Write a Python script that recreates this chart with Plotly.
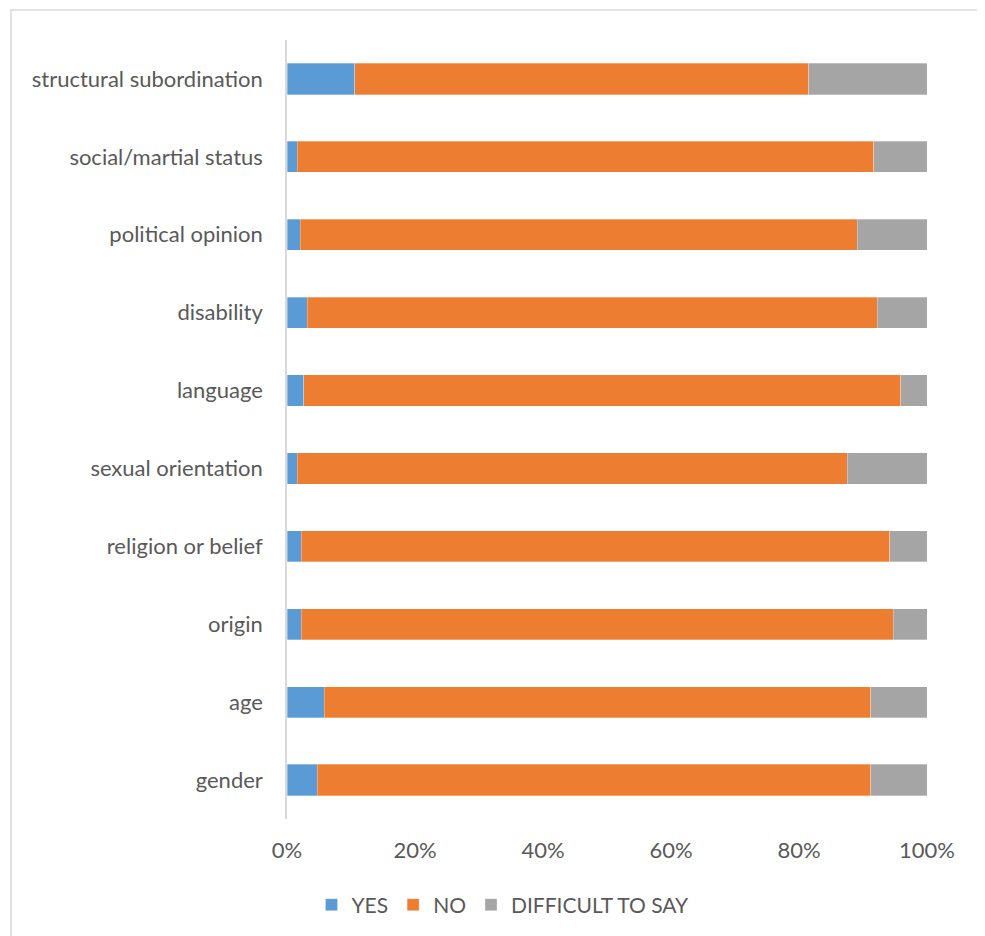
import plotly.graph_objects as go

categories = ["gender", "age", "origin", "religion or belief", "sexual orientation",
              "language", "disability", "political opinion", "social/martial status",
              "structural subordination"]
yes_vals = [4.7, 5.8, 2.2, 2.2, 1.6, 2.6, 3.2, 2.1, 1.6, 10.6]
no_vals = [86.5, 85.4, 92.5, 92.0, 85.9, 93.3, 89.0, 87.0, 90.1, 70.9]
dts_vals = [8.8, 8.8, 5.3, 5.8, 12.5, 4.1, 7.8, 10.9, 8.3, 18.5]
series_names = ["YES", "NO", "DIFFICULT TO SAY"]
tick_vals = [0, 20, 40, 60, 80, 100]
tick_text = ["0%", "20%", "40%", "60%", "80%", "100%"]

colors = ["#5B9BD5", "#ED7D31", "#A5A5A5"]
FONT = "Lato, 'Open Sans', sans-serif"

fig = go.Figure()
for name, vals, col in zip(series_names, [yes_vals, no_vals, dts_vals], colors):
    fig.add_trace(go.Bar(
        y=categories, x=vals, name=name, orientation="h",
        marker=dict(color=col, line=dict(color="rgba(255,255,255,0.6)", width=0.5)),
    ))

OFF = 8  # page body offset
W, H = 985 - OFF, 936 - OFF
L, T = 287 - OFF, 40 - OFF
pw, ph = 640, 780
R, B = W - L - pw, H - T - ph


def px_x(x):
    return (x - OFF - L) / pw


def px_y(y):
    return (T + ph - (y - OFF)) / ph


fig.update_layout(
    width=W, height=H,
    barmode="stack", bargap=0.6,
    margin=dict(l=L, r=R, t=T, b=B, pad=0),
    paper_bgcolor="white", plot_bgcolor="white",
    font=dict(family=FONT, size=22, color="#595959"),
    showlegend=True,
    legend=dict(orientation="h", x=px_x(503), xanchor="center",
                y=px_y(905), yanchor="middle",
                font=dict(size=21, color="#595959"), traceorder="normal",
                itemwidth=30),
    xaxis=dict(range=[0, 100], tickvals=tick_vals, ticktext=tick_text,
               showgrid=False, zeroline=False, showline=False,
               ticks="", ticklabelstandoff=16, fixedrange=True),
    yaxis=dict(categoryorder="array", categoryarray=categories,
               showgrid=False, zeroline=False, showline=True,
               linecolor="#D9D9D9", linewidth=1.5, ticks="",
               ticklabelstandoff=18, fixedrange=True),
    shapes=[dict(type="rect", xref="paper", yref="paper",
                 x0=px_x(11), x1=px_x(981),
                 y0=px_y(945), y1=px_y(10),
                 line=dict(color="#D9D9D9", width=1.5), fillcolor="rgba(0,0,0,0)",
                 layer="below")],
)

fig.write_html("out.html")
